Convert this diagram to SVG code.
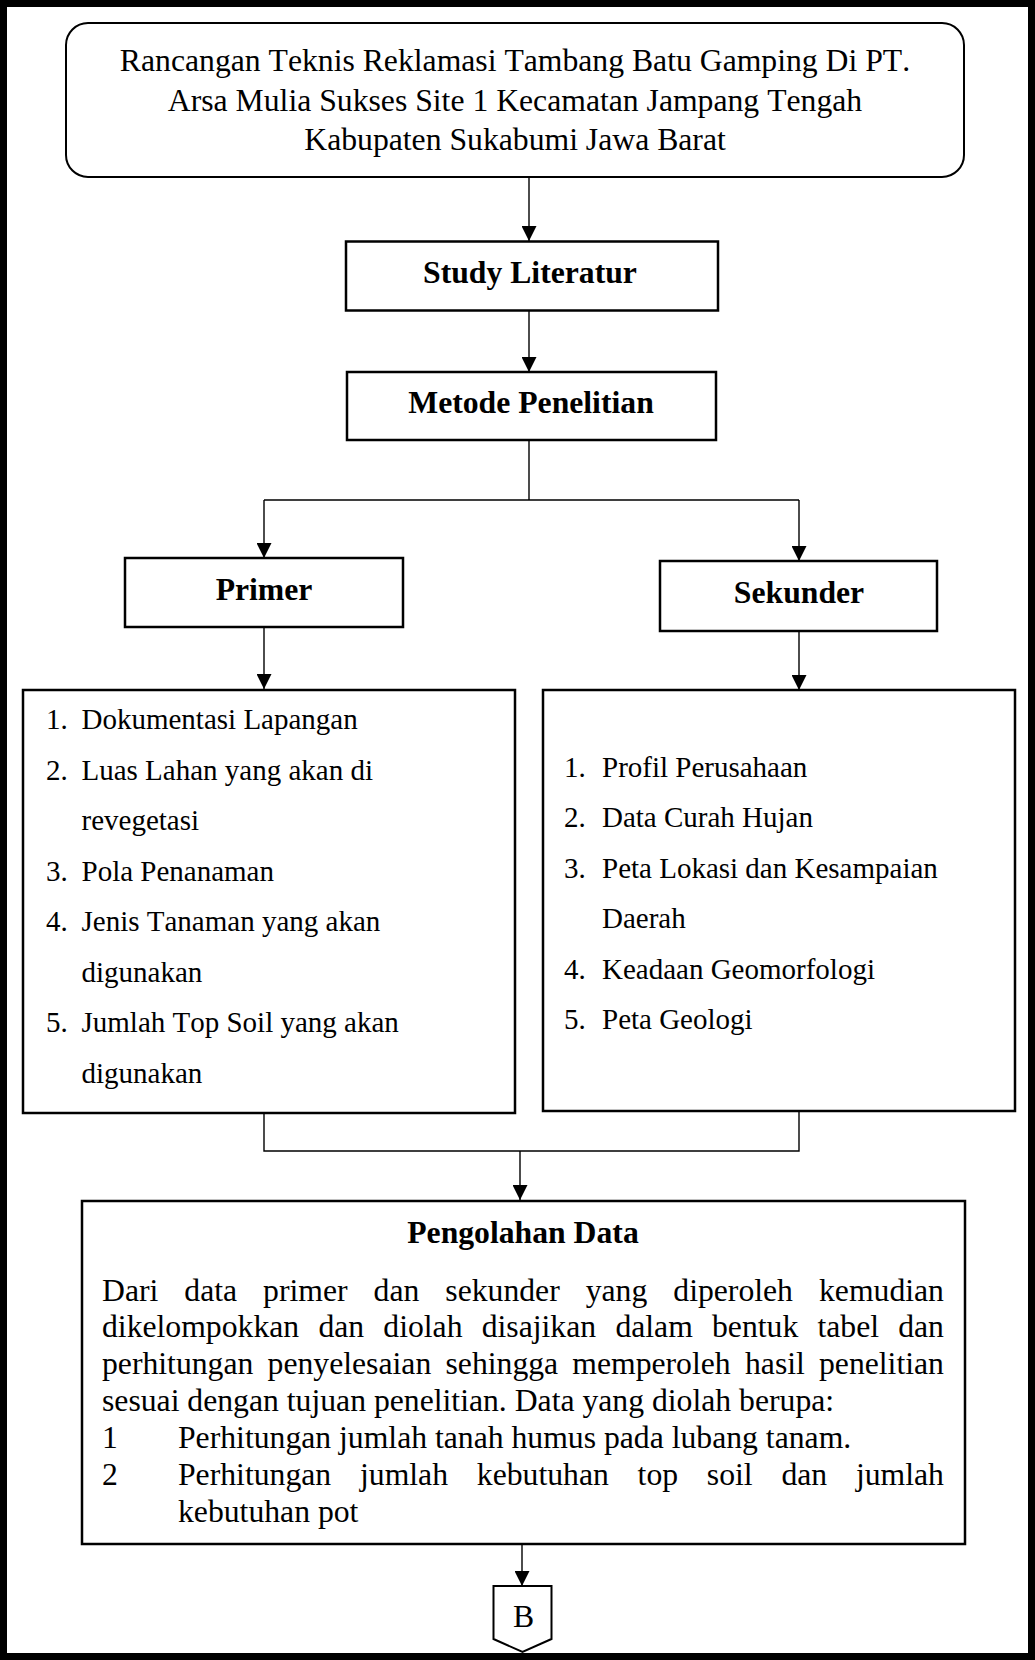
<svg xmlns="http://www.w3.org/2000/svg" width="1035" height="1660" viewBox="0 0 1035 1660">
<style>
  text { font-kerning: none; }
  .box { fill: #fff; stroke: #000; stroke-width: 2.5; }
  .t { font-family: "Liberation Serif", "Times New Roman", serif; font-size: 31.7px; fill: #000; }
  .b { font-family: "Liberation Serif", "Times New Roman", serif; font-size: 31.7px; font-weight: bold; fill: #000; }
  .l { font-family: "Liberation Serif", "Times New Roman", serif; font-size: 29px; fill: #000; }
  .c { text-anchor: middle; }
  .conn { fill: none; stroke: #000; stroke-width: 1.4; }
</style>
<defs>
  <marker id="ah" viewBox="0 0 15 15" refX="15" refY="7.5" markerWidth="15" markerHeight="15" markerUnits="userSpaceOnUse" orient="auto">
    <path d="M0,0 L15,7.5 L0,15 z" fill="#000"/>
  </marker>
</defs>
<rect x="0" y="0" width="1035" height="1660" fill="#fff"/>
<rect id="frame" x="3.5" y="3.5" width="1028" height="1653" fill="none" stroke="#000" stroke-width="7"/>

<g id="connectors">
  <path class="conn" d="M529,178 V241" marker-end="url(#ah)"/>
  <path class="conn" d="M529,310 V372" marker-end="url(#ah)"/>
  <path class="conn" d="M529,440 V500 M264,500 H799"/>
  <path class="conn" d="M264,500 V558" marker-end="url(#ah)"/>
  <path class="conn" d="M799,500 V561" marker-end="url(#ah)"/>
  <path class="conn" d="M264,627 V689" marker-end="url(#ah)"/>
  <path class="conn" d="M799,631 V690" marker-end="url(#ah)"/>
  <path class="conn" d="M264,1113 V1151 H799 V1111"/>
  <path class="conn" d="M520,1151 V1200" marker-end="url(#ah)"/>
  <path class="conn" d="M522,1544 V1586" marker-end="url(#ah)"/>
</g>

<g id="title">
  <rect x="66" y="23" width="898" height="154" rx="22" ry="22" fill="#fff" stroke="#000" stroke-width="2"/>
  <text class="t c" x="515" y="71">Rancangan Teknis Reklamasi Tambang Batu Gamping Di PT.</text>
  <text class="t c" x="515" y="110.5">Arsa Mulia Sukses Site 1 Kecamatan Jampang Tengah</text>
  <text class="t c" x="515" y="150">Kabupaten Sukabumi Jawa Barat</text>
</g>

<g id="study">
  <rect class="box" x="346" y="241.5" width="372" height="69"/>
  <text class="b c" x="530" y="283">Study Literatur</text>
</g>

<g id="metode">
  <rect class="box" x="347" y="372" width="369" height="68"/>
  <text class="b c" x="531" y="413">Metode Penelitian</text>
</g>

<g id="primer">
  <rect class="box" x="125" y="558" width="278" height="69"/>
  <text class="b c" x="264" y="600">Primer</text>
</g>

<g id="sekunder">
  <rect class="box" x="660" y="561" width="277" height="70"/>
  <text class="b c" x="799" y="603">Sekunder</text>
</g>

<g id="primer-list">
  <rect class="box" x="23" y="690" width="492" height="423"/>
  <text class="l" x="46" y="729">1.</text><text class="l" x="81.5" y="729">Dokumentasi Lapangan</text>
  <text class="l" x="46" y="779.5">2.</text><text class="l" x="81.5" y="779.5">Luas Lahan yang akan di</text>
  <text class="l" x="81.5" y="830">revegetasi</text>
  <text class="l" x="46" y="880.5">3.</text><text class="l" x="81.5" y="880.5">Pola Penanaman</text>
  <text class="l" x="46" y="931">4.</text><text class="l" x="81.5" y="931">Jenis Tanaman yang akan</text>
  <text class="l" x="81.5" y="981.5">digunakan</text>
  <text class="l" x="46" y="1032">5.</text><text class="l" x="81.5" y="1032">Jumlah Top Soil yang akan</text>
  <text class="l" x="81.5" y="1082.5">digunakan</text>
</g>

<g id="sekunder-list">
  <rect class="box" x="543" y="690" width="472" height="421"/>
  <text class="l" x="564" y="777">1.</text><text class="l" x="602" y="777">Profil Perusahaan</text>
  <text class="l" x="564" y="827.4">2.</text><text class="l" x="602" y="827.4">Data Curah Hujan</text>
  <text class="l" x="564" y="877.8">3.</text><text class="l" x="602" y="877.8">Peta Lokasi dan Kesampaian</text>
  <text class="l" x="602" y="928.2">Daerah</text>
  <text class="l" x="564" y="978.6">4.</text><text class="l" x="602" y="978.6">Keadaan Geomorfologi</text>
  <text class="l" x="564" y="1029">5.</text><text class="l" x="602" y="1029">Peta Geologi</text>
</g>

<g id="pengolahan">
  <rect class="box" x="82" y="1201" width="883" height="343" stroke-width="3"/>
  <text class="b c" x="523" y="1243">Pengolahan Data</text>
  <text class="t" y="1300.5"><tspan x="102">Dari</tspan><tspan x="184.3">data</tspan><tspan x="263.1">primer</tspan><tspan x="373.6">dan</tspan><tspan x="445.3">sekunder</tspan><tspan x="585.7">yang</tspan><tspan x="673.3">diperoleh</tspan><tspan x="819">kemudian</tspan></text>
  <text class="t" y="1337.4"><tspan x="102">dikelompokkan</tspan><tspan x="318.4">dan</tspan><tspan x="383.3">diolah</tspan><tspan x="481.7">disajikan</tspan><tspan x="615.4">dalam</tspan><tspan x="712">bentuk</tspan><tspan x="817.5">tabel</tspan><tspan x="898.2">dan</tspan></text>
  <text class="t" y="1374.3"><tspan x="102">perhitungan</tspan><tspan x="267.6">penyelesaian</tspan><tspan x="445.5">sehingga</tspan><tspan x="572.3">memperoleh</tspan><tspan x="745">hasil</tspan><tspan x="819">penelitian</tspan></text>
  <text class="t" x="102" y="1411.2">sesuai dengan tujuan penelitian. Data yang diolah berupa:</text>
  <text class="t" x="102" y="1448.1">1</text><text class="t" x="178" y="1448.1">Perhitungan jumlah tanah humus pada lubang tanam.</text>
  <text class="t" x="102" y="1485">2</text>
  <text class="t" y="1485"><tspan x="178">Perhitungan</tspan><tspan x="360">jumlah</tspan><tspan x="476.8">kebutuhan</tspan><tspan x="637.6">top</tspan><tspan x="706.8">soil</tspan><tspan x="781.4">dan</tspan><tspan x="855.9">jumlah</tspan></text>
  <text class="t" x="178" y="1521.9">kebutuhan pot</text>
</g>

<g id="connector-b">
  <polygon points="493.5,1586 551.5,1586 551.5,1639 522.5,1652 493.5,1639" fill="#fff" stroke="#000" stroke-width="2"/>
  <text class="t c" x="523.5" y="1626.5">B</text>
</g>
</svg>
